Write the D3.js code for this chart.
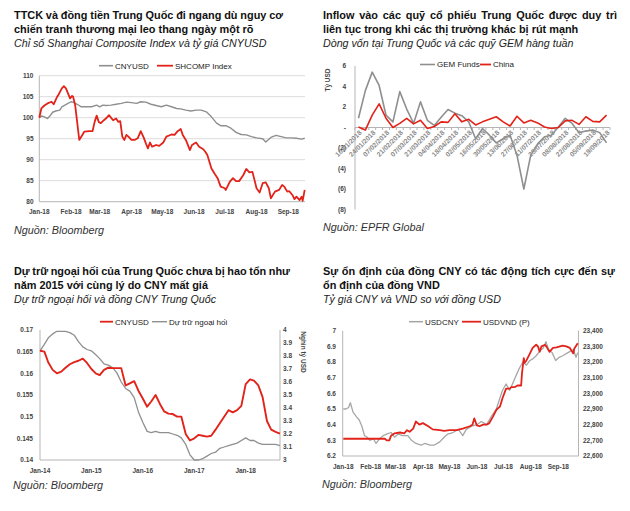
<!DOCTYPE html>
<html><head><meta charset="utf-8">
<script src="https://cdn.jsdelivr.net/npm/d3@7/dist/d3.min.js"></script>
<style>body{margin:0;background:#fff}svg{font-family:"Liberation Sans",Arial,sans-serif}</style>
</head><body><svg id="c" width="630" height="511"></svg>
<script>
// ---------- Panel 1: SHCOMP vs CNYUSD (indexed, 2018) ----------
const p1ShDates = ["2018-01-01","2018-01-03","2018-01-06","2018-01-09","2018-01-13","2018-01-15","2018-01-18","2018-01-20","2018-01-23","2018-01-25","2018-01-27","2018-01-29","2018-01-31","2018-02-02","2018-02-03","2018-02-05","2018-02-09","2018-02-12","2018-02-14","2018-02-19","2018-02-22","2018-02-24","2018-02-26","2018-02-28","2018-03-02","2018-03-05","2018-03-07","2018-03-10","2018-03-14","2018-03-17","2018-03-19","2018-03-21","2018-03-23","2018-03-25","2018-03-27","2018-03-29","2018-04-01","2018-04-04","2018-04-07","2018-04-10","2018-04-13","2018-04-15","2018-04-17","2018-04-19","2018-04-21","2018-04-25","2018-04-28","2018-05-02","2018-05-05","2018-05-10","2018-05-13","2018-05-16","2018-05-19","2018-05-21","2018-05-24","2018-05-28","2018-05-30","2018-06-03","2018-06-06","2018-06-10","2018-06-12","2018-06-14","2018-06-16","2018-06-18","2018-06-21","2018-06-24","2018-06-27","2018-07-01","2018-07-02","2018-07-06","2018-07-09","2018-07-12","2018-07-15","2018-07-19","2018-07-22","2018-07-25","2018-07-28","2018-07-30","2018-08-01","2018-08-04","2018-08-07","2018-08-10","2018-08-13","2018-08-15","2018-08-19","2018-08-23","2018-08-26","2018-08-28","2018-08-31","2018-09-02","2018-09-05","2018-09-07","2018-09-09","2018-09-12","2018-09-14","2018-09-15","2018-09-17"];
const p1ShValues = [100,102.2,102.9,103.4,103.8,103.2,104.8,105.6,107,107.5,107,105.8,104.6,105.2,105,103,94.7,95.9,96.7,96.8,96.8,99,100.5,99,98.7,99.4,99.8,100.6,99.4,99.8,99,99.2,95.5,94.7,95.9,95.5,94.7,94.7,95.1,96.8,95.2,93.9,92.7,94.1,93.1,93.5,93.3,94.1,95.5,96,95.9,96.8,97.3,95.9,94.7,92.3,93.5,94.1,93.1,92.5,91.9,91.1,89.5,87.9,86.7,85.6,83.6,83.2,82.8,84.8,85.6,84.9,84.9,86.3,87.8,87,87.1,85.2,83.2,82.2,84.4,84.6,83.2,80.8,82.4,82.8,84,83.6,82.4,82.5,81.6,80.6,81.2,80.4,81.2,80.2,82.8];
const p1CnyDates = ["2018-01-01","2018-01-03","2018-01-06","2018-01-09","2018-01-12","2018-01-14","2018-01-17","2018-01-21","2018-01-23","2018-01-26","2018-01-29","2018-02-01","2018-02-03","2018-02-07","2018-02-11","2018-02-16","2018-02-21","2018-02-26","2018-03-01","2018-03-04","2018-03-07","2018-03-12","2018-03-17","2018-03-22","2018-03-27","2018-04-01","2018-04-06","2018-04-10","2018-04-15","2018-04-20","2018-04-25","2018-04-30","2018-05-05","2018-05-10","2018-05-15","2018-05-19","2018-05-24","2018-05-29","2018-06-03","2018-06-08","2018-06-13","2018-06-18","2018-06-23","2018-06-27","2018-07-02","2018-07-07","2018-07-12","2018-07-17","2018-07-22","2018-07-27","2018-08-01","2018-08-07","2018-08-10","2018-08-15","2018-08-20","2018-08-25","2018-08-30","2018-09-04","2018-09-09","2018-09-14","2018-09-17"];
const p1CnyValues = [100,100.4,100.2,99.8,100.6,101.3,101.6,101.8,102.6,103,103.4,103.8,103.7,103.2,102.6,102.6,102.6,103,102.6,103,102.9,103,103.2,103.4,103.7,103.6,103.4,103.8,103.7,103.2,102.9,102.6,103,102.6,102.2,102.1,101.8,101.6,101.8,101.8,101.4,100.2,98.7,98.1,98.1,97.5,96.5,96,95.9,95.5,95.2,95,94.2,95.3,95.8,95.5,95.2,95.2,95.1,94.9,95.1];
const p1YTicks = [80,85,90,95,100,105,110];

// ---------- Panel 2: weekly flows ----------
const p2Weeks = ["10/01/2018","17/01/2018","24/01/2018","31/01/2018","07/02/2018","14/02/2018","21/02/2018","28/02/2018","07/03/2018","14/03/2018","21/03/2018","28/03/2018","04/04/2018","11/04/2018","18/04/2018","25/04/2018","02/05/2018","09/05/2018","16/05/2018","23/05/2018","30/05/2018","06/06/2018","13/06/2018","20/06/2018","27/06/2018","04/07/2018","11/07/2018","18/07/2018","25/07/2018","01/08/2018","08/08/2018","15/08/2018","22/08/2018","29/08/2018","05/09/2018","12/09/2018","19/09/2018"];
const p2Gem = [0.9,3.6,5.4,4.1,1.2,0.55,3.5,1.8,0.4,2.5,0.7,0.2,1.0,1.75,1.4,1.15,0.55,-1.1,-0.1,-0.75,-1.5,-1.1,-0.75,-2.7,-6.0,-2.7,-1.6,-0.9,-0.75,0.05,0.9,0.4,-0.5,-0.35,-0.25,-0.5,-1.5];
const p2China = [0.05,-0.25,1.2,2.3,0.9,0,0.4,0.9,0.35,0.7,-0.1,0.1,0.55,0.5,1.35,0.55,0.8,0.25,0.55,0.8,1.05,0.55,0.15,1.1,0.45,0.7,0.45,0.05,-0.1,0,0.65,0.7,0.3,1.05,0.6,0.55,1.2];
const p2YTicks = [6,4,2,0,-2,-4,-6,-8];

// ---------- Panel 3: reserves and CNYUSD (monthly 2014-2018) ----------
const p3Months = ["2014-01","2014-02","2014-03","2014-04","2014-05","2014-06","2014-07","2014-08","2014-09","2014-10","2014-11","2014-12","2015-01","2015-02","2015-03","2015-04","2015-05","2015-06","2015-07","2015-08","2015-09","2015-10","2015-11","2015-12","2016-01","2016-02","2016-03","2016-04","2016-05","2016-06","2016-07","2016-08","2016-09","2016-10","2016-11","2016-12","2017-01","2017-02","2017-03","2017-04","2017-05","2017-06","2017-07","2017-08","2017-09","2017-10","2017-11","2017-12","2018-01","2018-02","2018-03","2018-04","2018-05","2018-06","2018-07","2018-08","2018-09"];
const p3Cny = [0.1652,0.165,0.1625,0.1608,0.16,0.1604,0.1613,0.1621,0.1626,0.1629,0.1634,0.1624,0.161,0.16,0.1596,0.1608,0.1613,0.1612,0.1612,0.1612,0.1572,0.1577,0.1582,0.156,0.1542,0.1523,0.1535,0.155,0.153,0.1512,0.1507,0.1506,0.15,0.15,0.146,0.1445,0.145,0.1458,0.1456,0.1454,0.1456,0.147,0.1485,0.15,0.1515,0.151,0.1515,0.1525,0.1575,0.1586,0.1583,0.1572,0.1545,0.149,0.147,0.1465,0.1461];
const p3Reserves = [3.84,3.89,3.94,3.97,3.99,3.99,3.99,3.98,3.96,3.91,3.87,3.85,3.84,3.81,3.78,3.74,3.73,3.71,3.67,3.6,3.55,3.53,3.48,3.37,3.29,3.22,3.21,3.22,3.21,3.21,3.21,3.2,3.19,3.17,3.12,3.04,3.0,3.0,3.01,3.03,3.05,3.06,3.09,3.1,3.11,3.12,3.13,3.15,3.17,3.15,3.15,3.13,3.12,3.12,3.12,3.12,3.11];
const p3LeftTicks = [0.14,0.145,0.15,0.155,0.16,0.165,0.17];
const p3RightTicks = [3,3.1,3.2,3.3,3.4,3.5,3.6,3.7,3.8,3.9,4];

// ---------- Panel 4: USDCNY and USDVND (2018) ----------
const p4CnyDates = ["2018-01-01","2018-01-04","2018-01-07","2018-01-09","2018-01-12","2018-01-16","2018-01-19","2018-01-22","2018-01-25","2018-01-28","2018-01-31","2018-02-04","2018-02-07","2018-02-11","2018-02-15","2018-02-19","2018-02-24","2018-02-28","2018-03-04","2018-03-09","2018-03-15","2018-03-19","2018-03-24","2018-03-30","2018-04-03","2018-04-09","2018-04-14","2018-04-20","2018-04-25","2018-04-29","2018-05-05","2018-05-11","2018-05-16","2018-05-20","2018-05-26","2018-06-01","2018-06-06","2018-06-12","2018-06-17","2018-06-23","2018-06-27","2018-06-30","2018-07-04","2018-07-08","2018-07-12","2018-07-15","2018-07-19","2018-07-23","2018-07-27","2018-07-31","2018-08-03","2018-08-07","2018-08-11","2018-08-15","2018-08-18","2018-08-21","2018-08-25","2018-08-29","2018-09-02","2018-09-06","2018-09-12","2018-09-18","2018-09-21","2018-09-23"];
const p4CnyValues = [6.5,6.5,6.51,6.54,6.48,6.45,6.43,6.39,6.33,6.32,6.3,6.31,6.28,6.31,6.33,6.34,6.35,6.32,6.34,6.33,6.33,6.3,6.28,6.27,6.28,6.27,6.27,6.29,6.32,6.34,6.35,6.37,6.33,6.37,6.39,6.4,6.42,6.4,6.45,6.5,6.57,6.62,6.66,6.62,6.67,6.71,6.76,6.8,6.78,6.81,6.82,6.84,6.87,6.89,6.93,6.88,6.86,6.81,6.83,6.84,6.86,6.88,6.83,6.86];
const p4VndDates = ["2018-01-01","2018-02-17","2018-02-19","2018-02-22","2018-02-24","2018-02-28","2018-03-06","2018-03-11","2018-03-14","2018-03-17","2018-03-21","2018-03-24","2018-03-28","2018-04-01","2018-04-07","2018-04-12","2018-04-20","2018-04-25","2018-05-01","2018-05-09","2018-05-16","2018-05-24","2018-05-27","2018-05-29","2018-06-01","2018-06-04","2018-06-08","2018-06-12","2018-06-15","2018-06-19","2018-06-23","2018-06-27","2018-06-30","2018-07-04","2018-07-08","2018-07-10","2018-07-14","2018-07-17","2018-07-21","2018-07-22","2018-07-24","2018-07-25","2018-07-27","2018-07-31","2018-08-03","2018-08-07","2018-08-09","2018-08-11","2018-08-13","2018-08-17","2018-08-19","2018-08-22","2018-08-26","2018-08-30","2018-09-06","2018-09-10","2018-09-14","2018-09-18","2018-09-19","2018-09-23"];
const p4VndValues = [22710,22710,22700,22700,22730,22745,22750,22745,22765,22755,22775,22820,22800,22810,22790,22770,22765,22760,22765,22765,22775,22790,22800,22840,22795,22790,22800,22800,22810,22850,22895,22915,22970,23030,23030,23040,23040,23050,23050,23130,23225,23195,23210,23255,23290,23310,23300,23265,23300,23310,23295,23265,23290,23293,23305,23300,23290,23255,23285,23320];
const p4LeftTicks = [6.2,6.3,6.4,6.5,6.6,6.7,6.8,6.9,7];
const p4RightTicks = [22600,22700,22800,22900,23000,23100,23200,23300,23400];

// ---------- Drawing ----------
const svg = d3.select("#c");
const RED = "#e2231a", GRAY = "#8f8f8f", AXIS = "#b5b5b5", TXT = "#333";
const parse = d3.timeParse("%Y-%m-%d"), parseM = d3.timeParse("%Y-%m");

function title(x, y1, l1, l2, sub, target) {
  const t1 = svg.append("text").attr("x", x).attr("y", y1).attr("font-size", 10.9).attr("font-weight", "bold").attr("fill", "#111").text(l1);
  const w = t1.node().getComputedTextLength(), n = l1.split(" ").length - 1;
  t1.attr("word-spacing", (target - w) / n);
  svg.append("text").attr("x", x).attr("y", y1 + 14).attr("font-size", 10.9).attr("font-weight", "bold").attr("fill", "#111").text(l2);
  svg.append("text").attr("x", x).attr("y", y1 + 28).attr("font-size", 10.7).attr("font-style", "italic").attr("fill", "#222").text(sub);
}
function source(x, y, s) {
  svg.append("text").attr("x", x).attr("y", y).attr("font-size", 10.8).attr("font-style", "italic").attr("fill", TXT).text(s);
}
function legendItem(x1, x2, y, color, w, label) {
  svg.append("line").attr("x1", x1).attr("x2", x2).attr("y1", y).attr("y2", y).attr("stroke", color).attr("stroke-width", w);
  svg.append("text").attr("x", x2 + 2).attr("y", y).attr("dy", "0.35em").attr("font-size", 8).attr("fill", "#222").text(label);
}
function vline(x, y1, y2) { svg.append("line").attr("x1", x).attr("x2", x).attr("y1", y1).attr("y2", y2).attr("stroke", AXIS).attr("stroke-width", 1); }
function hline(x1, x2, y, c) { svg.append("line").attr("x1", x1).attr("x2", x2).attr("y1", y).attr("y2", y).attr("stroke", c || AXIS).attr("stroke-width", 1); }
function yLabels(ticks, y, x, anchor, fmt) {
  svg.append("g").selectAll("text").data(ticks).join("text")
    .attr("x", x).attr("y", d => y(d)).attr("dy", "0.35em").attr("text-anchor", anchor)
    .attr("font-size", 6.5).attr("font-weight", "bold").attr("fill", "#444").text(fmt);
}
function xLabels(ticks, x, y, fmt) {
  svg.append("g").selectAll("text").data(ticks).join("text")
    .attr("x", d => x(d)).attr("y", y).attr("text-anchor", "middle")
    .attr("font-size", 6.5).attr("font-weight", "bold").attr("fill", "#444").text(fmt);
}
function path(pts, color, w) {
  svg.append("path").datum(pts).attr("fill", "none").attr("stroke", color).attr("stroke-width", w)
    .attr("stroke-linejoin", "round").attr("d", d3.line());
}
const fmtMon = d3.timeFormat("%b-%y");

// Panel 1
title(14, 19, "TTCK và đồng tiền Trung Quốc đi ngang dù nguy cơ", "chiến tranh thương mại leo thang ngày một rõ", "Chỉ số Shanghai Composite Index và tỷ giá CNYUSD", 269);
{
  const x = d3.scaleTime().domain([parse("2018-01-01"), parse("2018-09-01")]).range([39.3, 288.3]);
  const y = d3.scaleLinear().domain([80, 110]).range([201.7, 75.7]);
  p1YTicks.forEach(t => hline(39.3, 305, y(t), t === 80 ? AXIS : "#dcdcdc"));
  vline(39.3, 75.7, 201.7);
  yLabels(p1YTicks, y, 33.5, "end", d => d);
  xLabels(d3.timeMonth.range(parse("2018-01-01"), parse("2018-09-02")), x, 213.5, fmtMon);
  path(p1CnyDates.map((d, i) => [x(parse(d)), y(p1CnyValues[i])]), GRAY, 1.4);
  path(p1ShDates.map((d, i) => [x(parse(d)), y(p1ShValues[i])]), RED, 1.8);
  legendItem(99, 113, 65.7, GRAY, 1.6, "CNYUSD");
  legendItem(157, 173, 65.7, RED, 1.8, "SHCOMP Index");
  source(14, 234, "Nguồn: Bloomberg");
}

// Panel 2
title(323, 19, "Inflow vào các quỹ cổ phiếu Trung Quốc được duy trì", "liên tục trong khi các thị trường khác bị rút mạnh", "Dòng vốn tại Trung Quốc và các quỹ GEM hàng tuần", 294);
{
  const xb = d3.scaleBand().domain(p2Weeks).range([355, 610]);
  const xc = d => xb(d) + xb.bandwidth() / 2;
  const y = d3.scaleLinear().domain([-8, 6]).range([209.5, 66]);
  vline(355, 66, 209.5);
  hline(355, 610, y(0));
  svg.append("g").selectAll("line").data(p2Weeks.concat(["end"])).join("line")
    .attr("x1", (d, i) => 355 + i * xb.step()).attr("x2", (d, i) => 355 + i * xb.step())
    .attr("y1", y(0)).attr("y2", y(0) + 2.5).attr("stroke", AXIS);
  yLabels(p2YTicks, y, 346, "end", d => d > 0 ? d : d === 0 ? "-" : "(" + (-d) + ")");
  svg.append("g").selectAll("text").data(p2Weeks.filter((d, i) => i % 2 === 0)).join("text")
    .attr("transform", d => `translate(${xc(d) + 2},${y(0) + 4}) rotate(-45)`)
    .attr("text-anchor", "end").attr("dy", "0.35em").attr("font-size", 6.8).attr("font-weight", "bold").attr("fill", "#8a8a8a").text(d => d);
  svg.append("text").attr("transform", "translate(330,80) rotate(-90)").attr("text-anchor", "middle")
    .attr("font-size", 6.5).attr("font-weight", "bold").attr("fill", "#444").text("Tỷ USD");
  path(p2Weeks.map((d, i) => [xc(d), y(p2Gem[i])]), GRAY, 1.6);
  path(p2Weeks.map((d, i) => [xc(d), y(p2China[i])]), RED, 1.6);
  legendItem(420, 435, 64.5, GRAY, 1.6, "GEM Funds");
  legendItem(480, 491, 64.5, RED, 1.8, "China");
  source(323, 231, "Nguồn: EPFR Global");
}

// Panel 3
title(14, 275, "Dự trữ ngoại hối của Trung Quốc chưa bị hao tổn như", "năm 2015 với cùng lý do CNY mất giá", "Dự trữ ngoại hối và đồng CNY Trung Quốc", 276);
{
  const x = d3.scaleTime().domain([parseM("2014-01"), parseM("2018-01")]).range([40, 245.7]);
  const yl = d3.scaleLinear().domain([0.14, 0.17]).range([460, 330]);
  const yr = d3.scaleLinear().domain([3, 4]).range([460, 330]);
  vline(40, 330, 460); vline(280, 330, 460); hline(40, 280, 460);
  yLabels(p3LeftTicks, yl, 33, "end", d => String(+d.toFixed(3)));
  yLabels(p3RightTicks, yr, 283, "start", d => String(+d.toFixed(1)));
  xLabels(d3.timeYear.range(parseM("2014-01"), parseM("2018-02")), x, 472.5, fmtMon);
  svg.append("text").attr("transform", "translate(301,352) rotate(90)").attr("text-anchor", "middle")
    .attr("font-size", 6.5).attr("font-weight", "bold").attr("fill", "#444").text("Nghìn tỷ USD");
  path(p3Months.map((d, i) => [x(parseM(d)), yr(p3Reserves[i])]), GRAY, 1.3);
  path(p3Months.map((d, i) => [x(parseM(d)), yl(p3Cny[i])]), RED, 1.9);
  legendItem(100, 113, 321.7, RED, 1.8, "CNYUSD");
  legendItem(152, 167, 321.7, GRAY, 1.4, "Dự trữ ngoại hối");
  source(13, 489, "Nguồn: Bloomberg");
}

// Panel 4
title(323, 275, "Sự ổn định của đồng CNY có tác động tích cực đến sự", "ổn định của đồng VND", "Tỷ giá CNY và VND so với đồng USD", 292);
{
  const x = d3.scaleTime().domain([parse("2018-01-01"), parse("2018-09-01")]).range([343.3, 558.3]);
  const yl = d3.scaleLinear().domain([6.2, 7]).range([456, 330.7]);
  const yr = d3.scaleLinear().domain([22600, 23400]).range([456, 330.7]);
  vline(342.7, 330.7, 456); vline(578.5, 330.7, 456); hline(342.7, 578.5, 456);
  yLabels(p4LeftTicks, yl, 336, "end", d => String(+d.toFixed(1)));
  yLabels(p4RightTicks, yr, 583, "start", d3.format(","));
  xLabels(d3.timeMonth.range(parse("2018-01-01"), parse("2018-09-02")), x, 468.5, fmtMon);
  path(p4CnyDates.map((d, i) => [x(parse(d)), yl(p4CnyValues[i])]), "#a6a6a6", 1.3);
  path(p4VndDates.map((d, i) => [x(parse(d)), yr(p4VndValues[i])]), RED, 1.8);
  legendItem(409, 423, 321.7, "#a6a6a6", 1.5, "USDCNY");
  legendItem(462, 481, 321.7, RED, 1.8, "USDVND (P)");
  source(322, 488, "Nguồn: Bloomberg");
}
</script></body></html>
